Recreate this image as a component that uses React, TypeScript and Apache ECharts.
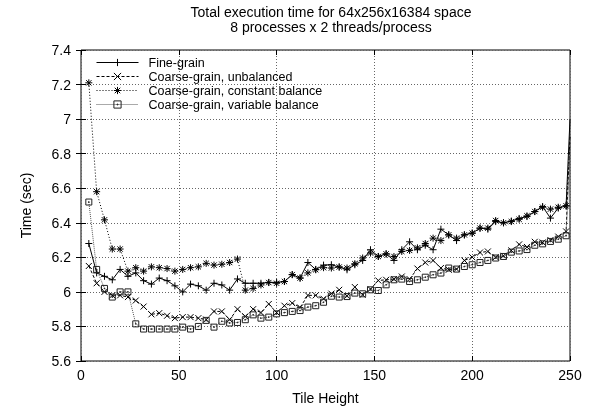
import React, { useEffect, useRef } from 'react';
import * as echarts from 'echarts';

const tileHeights = [
  4, 8, 12, 16, 20, 24, 28, 32, 36, 40,
  44, 48, 52, 56, 60, 64, 68, 72, 76, 80,
  84, 88, 92, 96, 100, 104, 108, 112, 116, 120,
  124, 128, 132, 136, 140, 144, 148, 152, 156, 160,
  164, 168, 172, 176, 180, 184, 188, 192, 196, 200,
  204, 208, 212, 216, 220, 224, 228, 232, 236, 240,
  244, 248, 250,
];

const fineGrain = [
  6.28, 6.11, 6.09, 6.07, 6.13, 6.09, 6.11, 6.065, 6.045, 6.08,
  6.065, 6.035, 6.0, 6.045, 6.035, 6.01, 6.05, 6.04, 6.01, 6.075,
  6.05, 6.05, 6.05, 6.055, 6.055, 6.06, 6.10, 6.08, 6.17, 6.13,
  6.155, 6.157, 6.144, 6.128, 6.157, 6.182, 6.244, 6.205, 6.22, 6.182,
  6.244, 6.29, 6.244, 6.27, 6.244, 6.363, 6.33, 6.297, 6.33, 6.34,
  6.369, 6.363, 6.407, 6.40, 6.41, 6.425, 6.436, 6.465, 6.494, 6.427,
  6.485, 6.498, 7.0,
];

const coarseUnbalanced = [
  6.15, 6.05, 6.0, 5.98, 5.98, 5.97, 5.95, 5.915, 5.87, 5.877,
  5.862, 5.848, 5.854, 5.854, 5.848, 5.84, 5.887, 5.887, 5.84, 5.9,
  5.858, 5.90, 5.88, 5.93, 5.88, 5.92, 5.935, 5.91, 5.98, 5.98,
  5.96, 5.99, 6.012, 5.977, 6.028, 5.983, 6.016, 6.066, 6.07, 6.074,
  6.089, 6.074, 6.135, 6.17, 6.182, 6.138, 6.128, 6.132, 6.182, 6.201,
  6.228, 6.234, 6.201, 6.209, 6.24, 6.275, 6.26, 6.29, 6.286, 6.30,
  6.32, 6.35, 6.9,
];

const coarseConstant = [
  7.21, 6.58, 6.417, 6.248, 6.248, 6.12, 6.14, 6.12, 6.145, 6.14,
  6.135, 6.12, 6.13, 6.14, 6.145, 6.165, 6.155, 6.16, 6.17, 6.19,
  6.01, 6.02, 6.04, 6.054, 6.05, 6.06, 6.10, 6.08, 6.11, 6.128,
  6.14, 6.138, 6.144, 6.138, 6.163, 6.196, 6.225, 6.205, 6.22, 6.205,
  6.234, 6.24, 6.255, 6.28, 6.311, 6.297, 6.33, 6.311, 6.33, 6.34,
  6.369, 6.369, 6.413, 6.40, 6.407, 6.42, 6.44, 6.465, 6.49, 6.479,
  6.49, 6.498, 6.85,
];

const coarseVariable = [
  6.52, 6.13, 6.02, 5.97, 6.0, 6.0, 5.815, 5.785, 5.785, 5.785,
  5.785, 5.785, 5.796, 5.785, 5.80, 5.835, 5.796, 5.83, 5.82, 5.823,
  5.839, 5.867, 5.848, 5.854, 5.873, 5.88, 5.887, 5.892, 5.912, 5.92,
  5.94, 5.975, 5.97, 5.973, 5.993, 5.989, 6.012, 6.008, 6.041, 6.07,
  6.074, 6.06, 6.07, 6.085, 6.099, 6.109, 6.138, 6.132, 6.147, 6.157,
  6.17, 6.182, 6.196, 6.205, 6.23, 6.237, 6.245, 6.27, 6.278, 6.292,
  6.305, 6.325, 6.8,
];

const seriesNames = [
  'Fine-grain',
  'Coarse-grain, unbalanced',
  'Coarse-grain, constant balance',
  'Coarse-grain, variable balance',
];

const titleLines = ['Total execution time for 64x256x16384 space', '8 processes x 2 threads/process'];
const xAxisTitle = 'Tile Height';
const yAxisTitle = 'Time (sec)';

const FONT = '"Liberation Sans", Arial, Helvetica, sans-serif';
const FS = 14;
const LEGEND_FS = 12.5;

const SYM_PLUS = 'path://M5,0V10M0,5H10';
const SYM_CROSS = 'path://M0,0L10,10M10,0L0,10';
const SYM_STAR = 'path://M5,0V10M0,5H10M1.2,1.2L8.8,8.8M8.8,1.2L1.2,8.8';
const SYM_BOX = 'path://M0,0H10V10H0ZM4.4,4.4H5.6V5.6H4.4Z';

const legendTops = [55.5, 69.5, 83.5, 97.5];

function buildData(values: number[]) {
  return tileHeights.map((t, i) => {
    const item: any = { value: [t, values[i]] };
    if (i === tileHeights.length - 1) item.symbol = 'none';
    return item;
  });
}

export default function App() {
  const ref = useRef<HTMLDivElement>(null);
  useEffect(() => {
    if (!ref.current) return;
    const chart = echarts.init(ref.current, undefined, { renderer: 'svg' });
    const mkSeries = (name: string, values: number[], symbol: string, size: number, lineType: any, lineColor: string, symColor: string) => ({
      name,
      type: 'line',
      data: buildData(values),
      symbol,
      symbolSize: size,
      showSymbol: true,
      clip: true,
      lineStyle: { color: lineColor, width: 1, type: lineType },
      itemStyle: { color: 'none', borderColor: symColor, borderWidth: 1 },
      emphasis: { disabled: true },
    });
    const axisCommon = {
      axisLine: { show: false },
      axisTick: { show: true, inside: true, length: 5, lineStyle: { color: '#000' } },
    };
    chart.setOption({
      animation: false,
      textStyle: { fontFamily: FONT, color: '#000' },
      title: {
        text: titleLines.join('\n'),
        left: 326,
        top: 0,
        textAlign: 'center',
        textStyle: { fontFamily: FONT, fontSize: FS, fontWeight: 'normal', color: '#000', lineHeight: 14.5 },
      },
      legend: seriesNames.map((name, i) => ({
        orient: 'vertical',
        left: 96,
        top: legendTops[i],
        itemWidth: 42,
        itemHeight: 9,
        itemGap: 0,
        padding: 0,
        selectedMode: false,
        data: [name],
        lineStyle: { width: 1 },
        itemStyle: { borderWidth: 1 },
        textStyle: { fontFamily: FONT, fontSize: LEGEND_FS, color: '#000', lineHeight: 14, padding: [0, 0, 0, 5] },
      })),
      grid: {
        left: 81,
        top: 50,
        width: 489,
        height: 311,
        show: true,
        borderColor: '#000',
        borderWidth: 1,
        backgroundColor: 'transparent',
      },
      xAxis: [
        {
          type: 'value',
          min: 0,
          max: 250,
          interval: 50,
          name: xAxisTitle,
          nameLocation: 'middle',
          nameGap: 30,
          nameTextStyle: { fontFamily: FONT, fontSize: FS, color: '#000' },
          ...axisCommon,
          axisLabel: { color: '#000', fontSize: FS, fontFamily: FONT, margin: 7 },
          splitLine: { show: true, lineStyle: { color: '#666', width: 1, type: [1, 2] } },
        },
        {
          type: 'value',
          position: 'top',
          min: 0,
          max: 250,
          interval: 50,
          ...axisCommon,
          axisLabel: { show: false },
          splitLine: { show: false },
        },
      ],
      yAxis: [
        {
          type: 'value',
          min: 5.6,
          max: 7.4,
          interval: 0.2,
          name: yAxisTitle,
          nameLocation: 'middle',
          nameGap: 48,
          nameTextStyle: { fontFamily: FONT, fontSize: FS, color: '#000' },
          ...axisCommon,
          axisLabel: { color: '#000', fontSize: FS, fontFamily: FONT, margin: 10 },
          splitLine: { show: true, lineStyle: { color: '#666', width: 1, type: [1, 2] } },
        },
        {
          type: 'value',
          position: 'right',
          min: 5.6,
          max: 7.4,
          interval: 0.2,
          ...axisCommon,
          axisLabel: { show: false },
          splitLine: { show: false },
        },
      ],
      series: [
        mkSeries(seriesNames[0], fineGrain, SYM_PLUS, 7, 'solid', '#000', '#000'),
        mkSeries(seriesNames[1], coarseUnbalanced, SYM_CROSS, 6, [3, 2], '#000', '#000'),
        mkSeries(seriesNames[2], coarseConstant, SYM_STAR, 7, [1, 2], '#000', '#000'),
        mkSeries(seriesNames[3], coarseVariable, SYM_BOX, 6, [1, 1], '#555', '#222'),
      ],
    });
    return () => chart.dispose();
  }, []);
  return <div ref={ref} style={{ position: 'fixed', left: 0, top: 0, width: 597, height: 413 }} />;
}
